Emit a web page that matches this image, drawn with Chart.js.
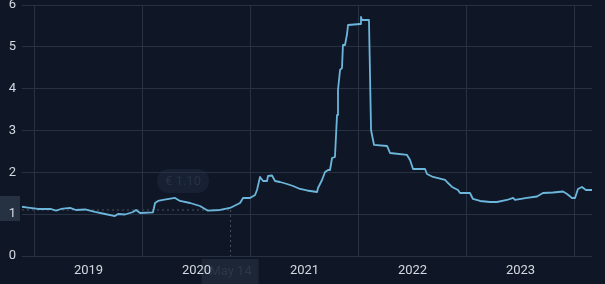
<!DOCTYPE html>
<html>
<head>
<meta charset="utf-8">
<script src="https://cdn.jsdelivr.net/npm/chart.js@4/dist/chart.umd.min.js"></script>
<style>
  html, body { margin: 0; padding: 0; background: #0f1726; }
  #wrap { width: 605px; height: 284px; position: relative; }
  canvas { background: #0f1726; }
</style>
</head>
<body>
<div id="wrap"><canvas id="c" width="605" height="284"></canvas></div>
<script>
// Time as fractional years
const dates = [
  2018.384, 2018.440, 2018.532, 2018.653, 2018.699, 2018.745, 2018.829, 2018.884, 2018.968,
  2019.060, 2019.153, 2019.245, 2019.273, 2019.338, 2019.412, 2019.440, 2019.477, 2019.597,
  2019.616, 2019.644, 2019.690, 2019.801, 2019.847, 2019.940,
  2020.032, 2020.106, 2020.218, 2020.310, 2020.403, 2020.431, 2020.495, 2020.542, 2020.560,
  2020.588, 2020.616, 2020.653, 2020.662, 2020.699, 2020.727, 2020.773, 2020.838, 2020.894, 2020.958,
  2021.023, 2021.116, 2021.125, 2021.162, 2021.190, 2021.218, 2021.236, 2021.255, 2021.282,
  2021.301, 2021.310, 2021.329, 2021.347, 2021.356, 2021.375, 2021.394, 2021.403, 2021.514,
  2021.523, 2021.532, 2021.597, 2021.616, 2021.625, 2021.644, 2021.764, 2021.792, 2021.949, 2021.977,
  2022.005, 2022.116, 2022.134, 2022.190, 2022.301, 2022.319, 2022.366, 2022.421, 2022.440,
  2022.532, 2022.560, 2022.625, 2022.718, 2022.782, 2022.875, 2022.931, 2022.949,
  2023.060, 2023.153, 2023.208, 2023.301, 2023.394, 2023.431, 2023.477, 2023.505, 2023.532,
  2023.569, 2023.606, 2023.662
];
const prices = [
  1.177, 1.155, 1.124, 1.124, 1.083, 1.124, 1.148, 1.100, 1.112,
  1.052, 1.004, 0.956, 1.004, 0.992, 1.052, 1.100, 1.028, 1.045,
  1.267, 1.315, 1.339, 1.387, 1.315, 1.267,
  1.195, 1.083, 1.100, 1.148, 1.267, 1.387, 1.387, 1.458, 1.578,
  1.889, 1.793, 1.793, 1.913, 1.924, 1.793, 1.769, 1.721, 1.673, 1.602,
  1.566, 1.530, 1.626, 1.817, 2.008, 2.056, 2.056, 2.343, 2.367,
  3.371, 3.968, 4.447, 4.494, 5.044, 5.044, 5.307, 5.522, 5.546,
  5.714, 5.642, 5.642, 3.012, 2.893, 2.654, 2.630, 2.462, 2.415, 2.295,
  2.080, 2.080, 1.960, 1.889, 1.817, 1.769, 1.650, 1.578, 1.506,
  1.506, 1.363, 1.315, 1.291, 1.291, 1.339, 1.387, 1.339,
  1.387, 1.422, 1.506, 1.518, 1.542, 1.482, 1.387, 1.387, 1.602,
  1.650, 1.578, 1.578
];
const yTicks = [0, 1, 2, 3, 4, 5, 6];
const xYearLabels = [2019, 2020, 2021, 2022, 2023];
const crosshairDate = 2020.315;
const crosshairValue = 1.10;
const crosshairDateLabel = 'May 14';
const crosshairValueLabel = '€ 1.10';

const points = dates.map((d, i) => ({ x: d, y: prices[i] }));

const FONT = 'Roboto, "Noto Sans", sans-serif';

const crosshair = {
  id: 'crosshair',
  beforeDraw(chart) {
    const { ctx, chartArea, scales } = chart;
    const px = scales.x.getPixelForValue(crosshairDate);
    const py = scales.y.getPixelForValue(crosshairValue);
    ctx.save();
    ctx.strokeStyle = 'rgba(130,140,155,0.5)';
    ctx.lineWidth = 1;
    ctx.setLineDash([2, 3]);
    ctx.beginPath();
    ctx.moveTo(chartArea.left, py);
    ctx.lineTo(px, py);
    ctx.moveTo(px, py);
    ctx.lineTo(px, chartArea.bottom + 4);
    ctx.stroke();
    ctx.setLineDash([]);
    ctx.fillStyle = '#263142';
    ctx.fillRect(0, py - 14, chartArea.left - 2, 25);
    ctx.fillStyle = '#1c2636';
    ctx.fillRect(px - 29, chartArea.bottom + 3, 57, 30);
    ctx.fillStyle = '#2c3849';
    ctx.font = '13px ' + FONT;
    ctx.textAlign = 'center';
    ctx.textBaseline = 'middle';
    ctx.fillText(crosshairDateLabel, px, chartArea.bottom + 16);
    const tx = 183, ty = 181, tw = 52, th = 24;
    ctx.fillStyle = '#172133';
    ctx.beginPath();
    ctx.roundRect(tx - tw / 2, ty - th / 2, tw, th, 12);
    ctx.fill();
    ctx.fillStyle = '#263345';
    ctx.fillText(crosshairValueLabel, tx, ty + 1);
    ctx.restore();
  }
};

new Chart(document.getElementById('c'), {
  type: 'line',
  data: {
    datasets: [{
      data: points,
      borderColor: '#6cb6dc',
      borderWidth: 1.8,
      borderJoinStyle: 'round',
      pointRadius: 0,
      tension: 0,
      fill: false
    }]
  },
  options: {
    responsive: false,
    animation: false,
    layout: { padding: { top: 5, right: 13, left: 0, bottom: 0 } },
    plugins: { legend: { display: false }, tooltip: { enabled: false } },
    scales: {
      x: {
        type: 'linear',
        min: dates[0],
        max: dates[dates.length - 1],
        afterFit(s) { s.height = 28; s.paddingLeft = 0; s.paddingRight = 0; },
        ticks: {
          stepSize: 0.5,
          includeBounds: false,
          autoSkip: false,
          maxRotation: 0,
          padding: 7,
          color: '#d3d9e2',
          font: { size: 13, family: FONT },
          callback(v) {
            const r = Math.round(v);
            return (Math.abs(v - r) < 1e-6 && xYearLabels.includes(r)) ? String(r) : '';
          }
        },
        grid: {
          drawTicks: false,
          color(c) {
            const v = c.tick ? c.tick.value : 0;
            return Math.abs(v - Math.round(v)) > 0.25 ? '#273142' : 'transparent';
          }
        },
        border: { display: false }
      },
      y: {
        min: 0,
        max: 6,
        afterFit(s) { s.width = 22; s.paddingTop = 0; s.paddingBottom = 0; },
        afterBuildTicks(s) { s.ticks = yTicks.map(v => ({ value: v })); },
        ticks: {
          padding: 6,
          color: '#d3d9e2',
          font: { size: 13, family: FONT }
        },
        grid: { drawTicks: false, color: '#273142' },
        border: { display: false }
      }
    }
  },
  plugins: [crosshair]
});
</script>
</body>
</html>
